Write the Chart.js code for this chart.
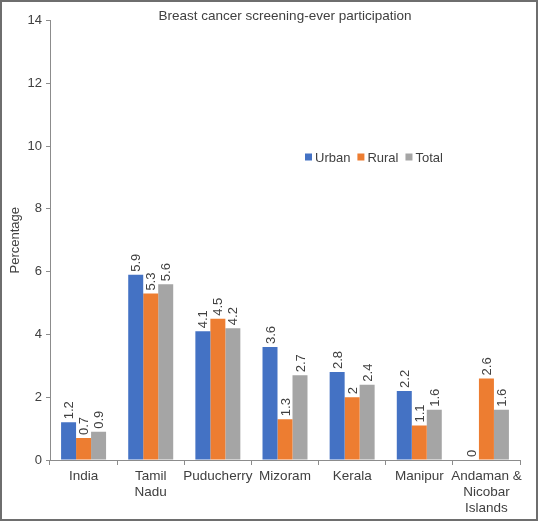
<!DOCTYPE html>
<html>
<head>
<meta charset="utf-8">
<script src="https://cdn.jsdelivr.net/npm/chart.js@4/dist/chart.umd.min.js"></script>
<style>
  html, body { margin: 0; padding: 0; background: #fff; }
  #frame { width: 538px; height: 521px; box-sizing: border-box; border: 2px solid #6e6e6e; background: #fff; }
  #chart { display: block; }
</style>
</head>
<body>
<div id="frame"><canvas id="chart" width="534" height="517"></canvas></div>
<script>
// データ
const categories = ['India', ['Tamil', 'Nadu'], 'Puducherry', 'Mizoram', 'Kerala', 'Manipur', ['Andaman &', 'Nicobar', 'Islands']];
const urban = [1.2, 5.9, 4.1, 3.6, 2.8, 2.2, 0];
const rural = [0.7, 5.3, 4.5, 1.3, 2, 1.1, 2.6];
const total = [0.9, 5.6, 4.2, 2.7, 2.4, 1.6, 1.6];
const seriesNames = ['Urban', 'Rural', 'Total'];
const seriesColors = ['#4472C4', '#ED7D31', '#A5A5A5'];
const yTicks = [0, 2, 4, 6, 8, 10, 12, 14];

const FONT = '"Liberation Sans", Arial, sans-serif';
const TEXT = '#404040';
const AXIS = '#8c8c8c';

/**
 * 棒の上に縦書きで値ラベル、中央にタイトル、プロット内に凡例を描く
 */
const overlayPlugin = {
    id: 'overlay',
    afterDatasetsDraw(chart) {
        const { ctx, chartArea } = chart;
        ctx.save();
        ctx.fillStyle = TEXT;
        ctx.font = '13px ' + FONT;

        // 値ラベル（-90° 回転）
        chart.data.datasets.forEach((ds, i) => {
            chart.getDatasetMeta(i).data.forEach((bar, j) => {
                ctx.save();
                ctx.translate(bar.x, bar.y - 3);
                ctx.rotate(-Math.PI / 2);
                ctx.textAlign = 'left';
                ctx.textBaseline = 'middle';
                ctx.fillText(String(ds.data[j]), 0, 1);
                ctx.restore();
            });
        });

        // タイトル
        ctx.font = '13.5px ' + FONT;
        ctx.textAlign = 'center';
        ctx.textBaseline = 'middle';
        ctx.fillText('Breast cancer screening-ever participation', (chartArea.left + chartArea.right) / 2, 14.5);

        // 凡例
        ctx.font = '13px ' + FONT;
        ctx.textAlign = 'left';
        let x = 303;
        const y = 155;
        chart.data.datasets.forEach((ds) => {
            ctx.fillStyle = ds.backgroundColor;
            ctx.fillRect(x, y - 3.5, 7, 7);
            x += 10;
            ctx.fillStyle = TEXT;
            ctx.fillText(ds.label, x, y + 1);
            x += ctx.measureText(ds.label).width + 7;
        });
        ctx.restore();
    }
};

new Chart(document.getElementById('chart'), {
    type: 'bar',
    data: {
        labels: categories,
        datasets: [urban, rural, total].map((d, i) => ({
            label: seriesNames[i],
            data: d,
            backgroundColor: seriesColors[i],
            borderWidth: 0,
            barPercentage: 1,
            categoryPercentage: 0.67
        }))
    },
    options: {
        responsive: false,
        animation: false,
        devicePixelRatio: 1,
        layout: { padding: { top: 18.5, right: 16, left: 0, bottom: 0 } },
        plugins: {
            legend: { display: false },
            title: { display: false },
            tooltip: { enabled: false }
        },
        scales: {
            x: {
                grid: { display: true, drawOnChartArea: false, offset: true, color: AXIS, tickLength: 5 },
                border: { color: AXIS, width: 1 },
                ticks: { color: TEXT, font: { family: FONT, size: 13.5, lineHeight: 1.15 }, maxRotation: 0, autoSkip: false, padding: 4 },
                afterFit(scale) { scale.height = 59; }
            },
            y: {
                min: 0,
                max: 14,
                afterBuildTicks(scale) { scale.ticks = yTicks.map(v => ({ value: v })); },
                grid: { display: true, drawOnChartArea: false, color: AXIS, tickLength: 4 },
                border: { color: AXIS, width: 1 },
                ticks: { color: TEXT, font: { family: FONT, size: 13 }, padding: 4 },
                title: { display: true, text: 'Percentage', color: TEXT, font: { family: FONT, size: 13 }, padding: { top: 6, bottom: 0 } },
                afterFit(scale) { scale.width = 48; }
            }
        }
    },
    plugins: [overlayPlugin]
});
</script>
</body>
</html>
